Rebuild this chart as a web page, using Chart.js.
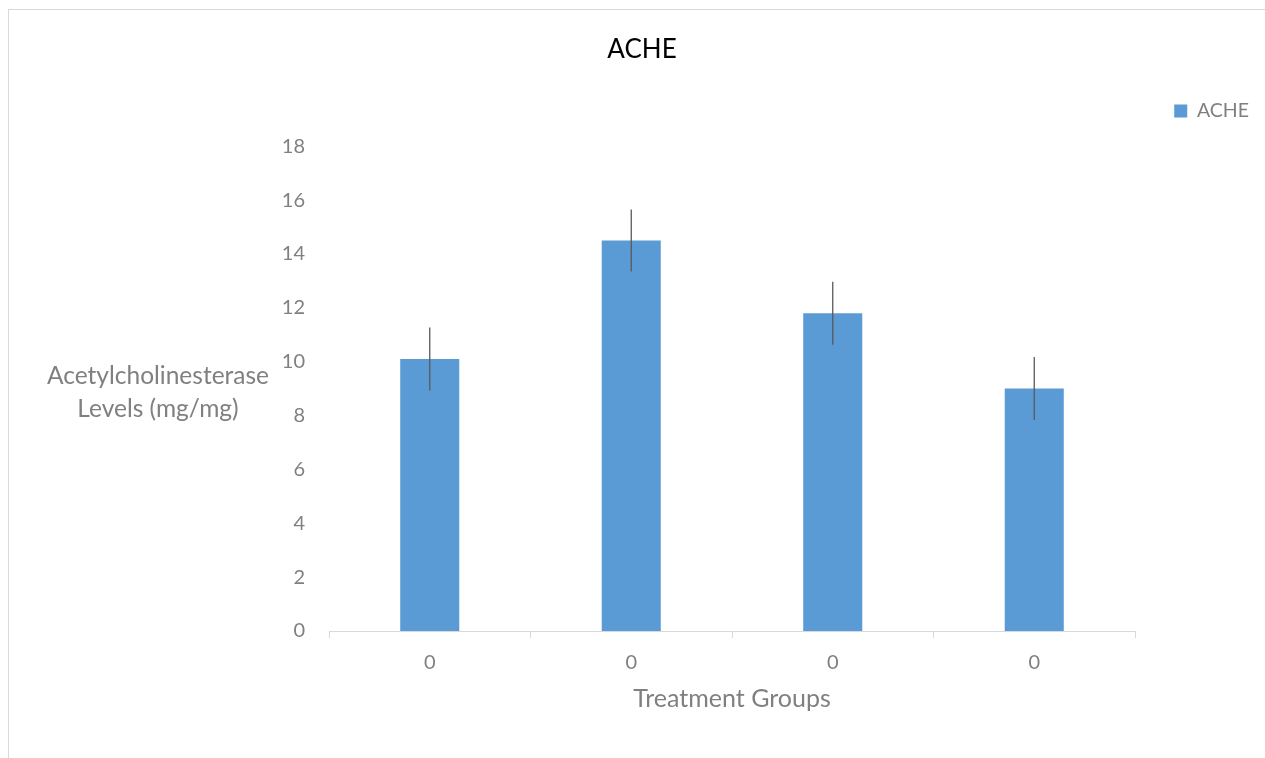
<!DOCTYPE html>
<html>
<head>
<meta charset="utf-8">
<script src="https://cdn.jsdelivr.net/npm/chart.js@4.4.0/dist/chart.umd.min.js"></script>
<style>
    html, body { margin: 0; padding: 0; background: #ffffff; overflow: hidden; }
    #frame { position: absolute; left: 8px; top: 9px; width: 2000px; height: 2000px; border: 1px solid #d9d9d9; }
    #wrap { position: absolute; left: 0; top: 0; width: 1265px; height: 758px; }
</style>
</head>
<body>
<div id="frame"></div>
<div id="wrap"><canvas id="acheChart" width="1265" height="758"></canvas></div>
<script>
// values
const categories = ['0', '0', '0', '0'];
const acheValues = [10.1, 14.5, 11.8, 9.0];
const acheErrors = [1.17, 1.15, 1.17, 1.17];
const yTitleLines = ['Acetylcholinesterase', 'Levels (mg/mg)'];

const FONT = 'Lato';
const GREY = '#808080';

var ctx = document.getElementById('acheChart');

// vertical error bars at the centre of each bar
const errorBars = {
    id: 'errorBars',
    afterDatasetsDraw(chart) {
        const meta = chart.getDatasetMeta(0);
        const y = chart.scales.y;
        const c = chart.ctx;
        c.save();
        c.strokeStyle = '#595959';
        c.lineWidth = 1.3;
        meta.data.forEach(function (bar, i) {
            const v = acheValues[i], e = acheErrors[i];
            c.beginPath();
            c.moveTo(bar.x, y.getPixelForValue(v + e));
            c.lineTo(bar.x, y.getPixelForValue(v - e));
            c.stroke();
        });
        c.restore();
    }
};

// horizontal y-axis title, two lines, left of the ticks
const yTitle = {
    id: 'yTitle',
    afterDraw(chart) {
        const c = chart.ctx;
        const area = chart.chartArea;
        const mid = (area.top + area.bottom) / 2;
        c.save();
        c.font = '24.5px ' + FONT;
        c.fillStyle = GREY;
        c.textAlign = 'center';
        c.textBaseline = 'middle';
        c.fillText(yTitleLines[0], 158, mid - 13);
        c.fillText(yTitleLines[1], 158, mid + 20);
        c.restore();
    }
};

new Chart(ctx, {
    type: 'bar',
    data: {
        labels: categories,
        datasets: [{
            label: 'ACHE',
            data: acheValues,
            backgroundColor: '#5b9bd5',
            borderWidth: 0,
            categoryPercentage: 1,
            barPercentage: 0.293
        }]
    },
    options: {
        responsive: false,
        animation: false,
        layout: { padding: { left: 25, right: 6, top: 0, bottom: 0 } },
        scales: {
            x: {
                grid: { display: true, drawOnChartArea: false, drawTicks: true, tickLength: 7, color: '#d9d9d9', offset: true },
                border: { display: true, color: '#d9d9d9' },
                ticks: { color: GREY, font: { family: FONT, size: 20 }, padding: 13 },
                title: { display: true, text: 'Treatment Groups', color: GREY, font: { family: FONT, size: 25 }, padding: { top: 0, bottom: 44 } },
                afterFit: function (s) { s.height = 127; }
            },
            y: {
                min: 0,
                max: 18,
                ticks: { stepSize: 2, color: GREY, font: { family: FONT, size: 20 }, padding: 24 },
                grid: { display: false, drawTicks: false },
                border: { display: false },
                afterFit: function (s) { s.width = 304; }
            },
            yRight: {
                type: 'linear',
                position: 'right',
                display: true,
                grid: { display: false, drawTicks: false },
                border: { display: false },
                ticks: { display: false },
                afterFit: function (s) { s.width = 124; }
            }
        },
        plugins: {
            title: {
                display: true,
                text: 'ACHE',
                color: '#000000',
                font: { family: FONT, size: 26, weight: 'normal' },
                padding: { top: 34.5, bottom: 25.6 }
            },
            legend: {
                display: true,
                position: 'top',
                align: 'end',
                labels: { boxWidth: 13, boxHeight: 13, padding: 10, color: GREY, font: { family: FONT, size: 19.5 } }
            },
            // empty spacer under the legend
            subtitle: {
                display: true,
                text: '',
                weight: 500,
                font: { size: 12 },
                padding: { top: 0, bottom: 1 }
            },
            tooltip: { enabled: false }
        }
    },
    plugins: [errorBars, yTitle]
});
</script>
</body>
</html>
